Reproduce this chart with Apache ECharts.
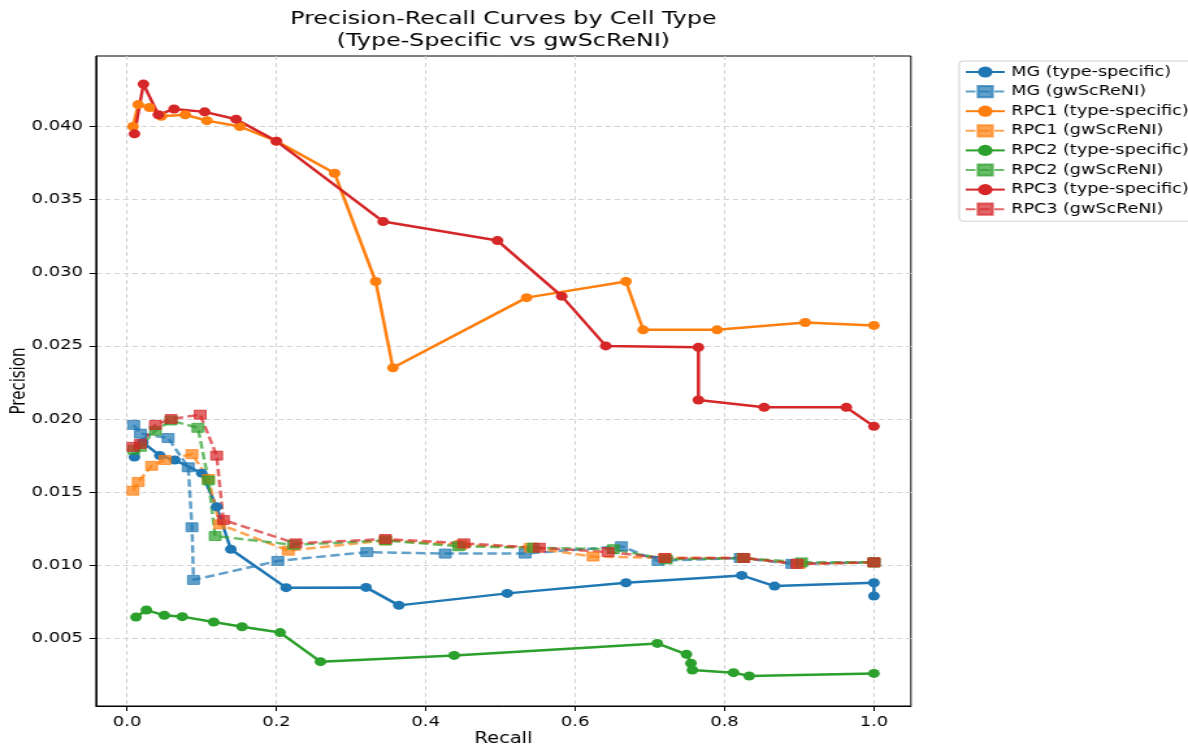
<!DOCTYPE html>
<html>
<head>
<meta charset="utf-8">
<script src="https://cdn.jsdelivr.net/npm/echarts@6/dist/echarts.min.js"></script>
<style>
html,body{margin:0;padding:0;background:#fff;overflow:hidden;width:1188px;height:749px;}
#wrap{width:914px;height:749px;transform:scaleX(1.2998);transform-origin:0 0;}
</style>
</head>
<body>
<div id="wrap"></div>
<script>
// ---- data ----
const xTickValues = [0, 0.2, 0.4, 0.6, 0.8, 1.0];
const yTickValues = [0.005, 0.010, 0.015, 0.020, 0.025, 0.030, 0.035, 0.040];

const seriesNames = [
  'MG (type-specific)', 'MG (gwScReNI)',
  'RPC1 (type-specific)', 'RPC1 (gwScReNI)',
  'RPC2 (type-specific)', 'RPC2 (gwScReNI)',
  'RPC3 (type-specific)', 'RPC3 (gwScReNI)'
];

const mgTsRecall    = [0.010, 0.021, 0.044, 0.064, 0.100, 0.120, 0.139, 0.213, 0.320, 0.364, 0.509, 0.668, 0.823, 0.867, 1.000, 1.000];
const mgTsPrecision = [0.0174, 0.0184, 0.0175, 0.0172, 0.0163, 0.0140, 0.0111, 0.00847, 0.00849, 0.00726, 0.00808, 0.00881, 0.00931, 0.00858, 0.00881, 0.00790];

const mgGwRecall    = [0.009, 0.018, 0.055, 0.082, 0.087, 0.089, 0.202, 0.321, 0.426, 0.533, 0.662, 0.711, 0.821, 0.890, 1.000];
const mgGwPrecision = [0.0196, 0.0190, 0.0187, 0.0167, 0.0126, 0.0090, 0.0103, 0.0109, 0.0108, 0.0108, 0.0113, 0.0103, 0.0105, 0.0101, 0.0102];

const rpc1TsRecall    = [0.008, 0.015, 0.030, 0.046, 0.078, 0.107, 0.151, 0.200, 0.278, 0.333, 0.356, 0.535, 0.668, 0.691, 0.790, 0.908, 1.000];
const rpc1TsPrecision = [0.0400, 0.0415, 0.0413, 0.0407, 0.0408, 0.0404, 0.0400, 0.0390, 0.0368, 0.0294, 0.0235, 0.0283, 0.0294, 0.0261, 0.0261, 0.0266, 0.0264];

const rpc1GwRecall    = [0.008, 0.015, 0.033, 0.051, 0.087, 0.109, 0.124, 0.216, 0.346, 0.447, 0.540, 0.624, 0.720, 0.825, 0.900, 1.000];
const rpc1GwPrecision = [0.0151, 0.0157, 0.0168, 0.0172, 0.0176, 0.0159, 0.0128, 0.0110, 0.0117, 0.0114, 0.0112, 0.0106, 0.0105, 0.0105, 0.0101, 0.0102];

const rpc2TsRecall    = [0.012, 0.026, 0.050, 0.074, 0.116, 0.154, 0.205, 0.259, 0.438, 0.710, 0.749, 0.755, 0.757, 0.812, 0.833, 1.000];
const rpc2TsPrecision = [0.00646, 0.00694, 0.00658, 0.00649, 0.00612, 0.00580, 0.00540, 0.00341, 0.00384, 0.00466, 0.00391, 0.00330, 0.00284, 0.00266, 0.00243, 0.00261];

const rpc2GwRecall    = [0.009, 0.018, 0.038, 0.059, 0.095, 0.109, 0.118, 0.223, 0.346, 0.444, 0.544, 0.651, 0.722, 0.825, 0.903, 1.000];
const rpc2GwPrecision = [0.0179, 0.0181, 0.0192, 0.0199, 0.0194, 0.0158, 0.0120, 0.0114, 0.0117, 0.0113, 0.0112, 0.0111, 0.0104, 0.0105, 0.0102, 0.0102];

const rpc3TsRecall    = [0.010, 0.022, 0.042, 0.063, 0.104, 0.146, 0.200, 0.343, 0.496, 0.582, 0.641, 0.765, 0.765, 0.853, 0.963, 1.000];
const rpc3TsPrecision = [0.0395, 0.0429, 0.0408, 0.0412, 0.0410, 0.0405, 0.0390, 0.0335, 0.0322, 0.0284, 0.0250, 0.0249, 0.0213, 0.0208, 0.0208, 0.0195];

const rpc3GwRecall    = [0.008, 0.018, 0.038, 0.059, 0.098, 0.120, 0.129, 0.226, 0.346, 0.451, 0.552, 0.644, 0.720, 0.826, 0.897, 1.000];
const rpc3GwPrecision = [0.0181, 0.0183, 0.0196, 0.0200, 0.0203, 0.0175, 0.0131, 0.0115, 0.0118, 0.0115, 0.0112, 0.0109, 0.0105, 0.0105, 0.0101, 0.0102];

// ---- styling ----
const FONT = 'DejaVu Sans';
const colorsRGB = ['31,119,180', '255,127,14', '44,160,44', '214,39,40'];

function zip(a, b) { return a.map((v, i) => [v, b[i]]); }

const seriesData = [
  zip(mgTsRecall, mgTsPrecision), zip(mgGwRecall, mgGwPrecision),
  zip(rpc1TsRecall, rpc1TsPrecision), zip(rpc1GwRecall, rpc1GwPrecision),
  zip(rpc2TsRecall, rpc2TsPrecision), zip(rpc2GwRecall, rpc2GwPrecision),
  zip(rpc3TsRecall, rpc3TsPrecision), zip(rpc3GwRecall, rpc3GwPrecision)
];

const series = seriesData.map((d, i) => {
  const gw = i % 2 === 1;
  const rgb = colorsRGB[Math.floor(i / 2)];
  const c = gw ? 'rgba(' + rgb + ',0.7)' : 'rgb(' + rgb + ')';
  return {
    name: seriesNames[i],
    type: 'line',
    data: d,
    symbol: gw ? 'rect' : 'circle',
    symbolSize: 9,
    showSymbol: true,
    showAllSymbol: true,
    animation: false,
    emphasis: { disabled: true },
    lineStyle: { color: c, width: 2.5, type: gw ? [7.5, 3.5] : 'solid' },
    itemStyle: { color: c, borderColor: c, borderWidth: gw ? 1 : 0, opacity: 1 }
  };
});

const chart = echarts.init(document.getElementById('wrap'), null, { renderer: 'canvas', width: 914, height: 749 });

chart.setOption({
  animation: false,
  backgroundColor: '#ffffff',
  title: {
    text: 'Precision-Recall Curves by Cell Type\n(Type-Specific vs gwScReNI)',
    left: 387.3,
    top: 8,
    padding: 0,
    textAlign: 'center',
    textStyle: { fontFamily: FONT, fontSize: 18.3, fontWeight: 'normal', color: '#000', lineHeight: 22 }
  },
  legend: {
    orient: 'vertical',
    left: 738,
    top: 61,
    padding: [4, 4, 5, 4],
    itemWidth: 30,
    itemHeight: 14,
    itemGap: 5.6,
    backgroundColor: 'rgba(255,255,255,0.8)',
    borderColor: '#d0d0d0',
    borderWidth: 1,
    borderRadius: 3,
    textStyle: { fontFamily: FONT, fontSize: 13.5, color: '#000' },
    data: seriesNames
  },
  grid: {
    left: 73.85, right: 213.2, top: 56, bottom: 43,
    outerBoundsMode: 'none',
    containLabel: false,
    show: true, borderColor: '#000', borderWidth: 1, backgroundColor: 'transparent'
  },
  xAxis: {
    type: 'value',
    min: -0.0415,
    max: 1.0495,
    name: 'Recall',
    nameLocation: 'middle',
    nameGap: 26,
    nameMoveOverlap: false,
    nameTextStyle: { fontFamily: FONT, fontSize: 15, color: '#000' },
    axisLine: { show: true, onZero: false, lineStyle: { color: '#000', width: 1 } },
    axisTick: { show: true, inside: false, length: 5, customValues: xTickValues, lineStyle: { color: '#000' } },
    axisLabel: {
      customValues: xTickValues, margin: 9,
      fontFamily: FONT, fontSize: 13.8, color: '#000',
      formatter: v => v.toFixed(1)
    },
    splitLine: { show: true, lineStyle: { color: '#d3d3d3', type: [4, 3], width: 1 } }
  },
  yAxis: {
    type: 'value',
    min: 0.00038,
    max: 0.04482,
    name: 'Precision',
    nameLocation: 'middle',
    nameGap: 51,
    nameMoveOverlap: false,
    nameRotate: 90,
    nameTextStyle: { fontFamily: FONT, fontSize: 15, color: '#000' },
    axisLine: { show: true, onZero: false, lineStyle: { color: '#000', width: 1 } },
    axisTick: { show: true, inside: false, length: 5, customValues: yTickValues, lineStyle: { color: '#000' } },
    axisLabel: {
      customValues: yTickValues, margin: 10,
      fontFamily: FONT, fontSize: 13.8, color: '#000',
      formatter: v => v.toFixed(3)
    },
    splitLine: { show: true, lineStyle: { color: '#d3d3d3', type: [4, 3], width: 1 } }
  },
  series: series
});
</script>
</body>
</html>
